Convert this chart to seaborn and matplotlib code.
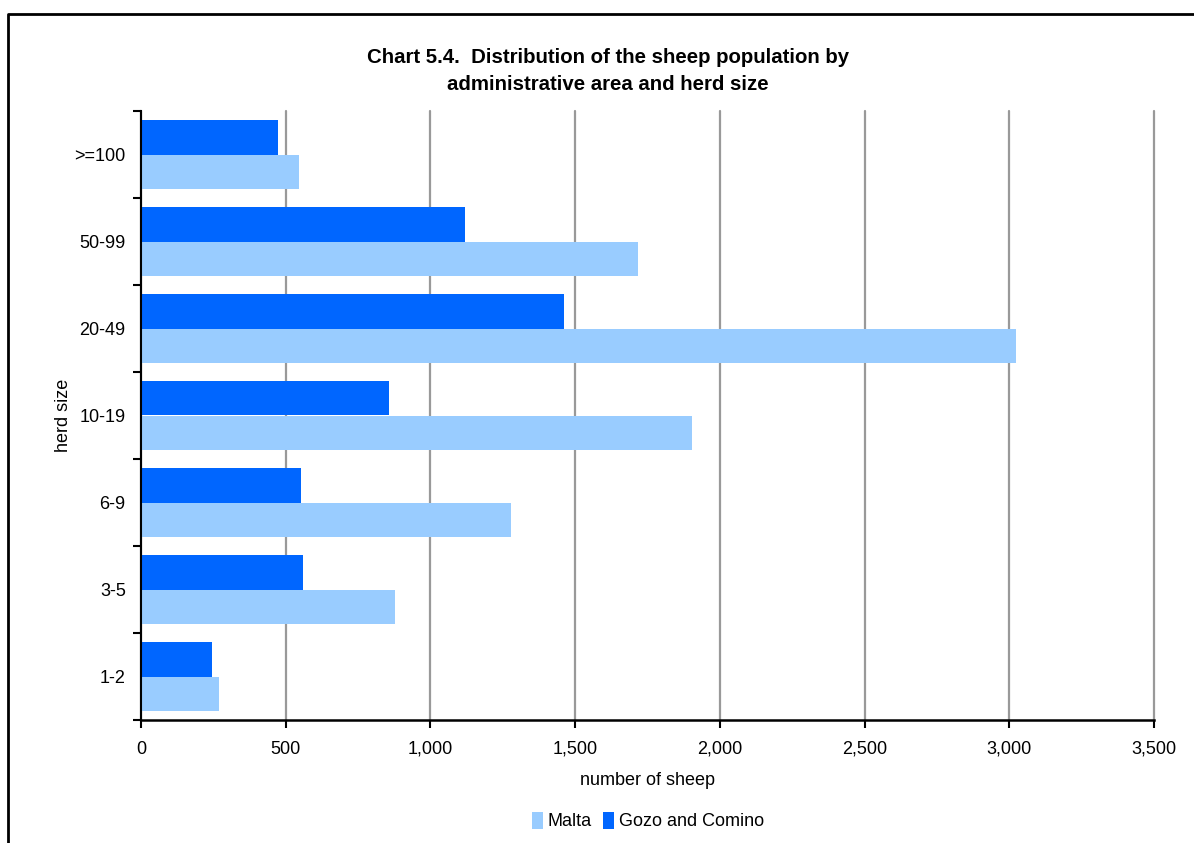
import pandas as pd
import matplotlib.pyplot as plt
from matplotlib.lines import Line2D
from matplotlib.patches import Patch
from matplotlib.ticker import FuncFormatter, FixedLocator
import seaborn as sns

# herd size classes, top to bottom as drawn
herd_sizes = [">=100", "50-99", "20-49", "10-19", "6-9", "3-5", "1-2"]
malta = [545, 1716, 3024, 1905, 1280, 876, 271]
gozo = [472, 1121, 1463, 856, 554, 561, 247]
areas = ["Malta", "Gozo and Comino"]
colors = {"Malta": "#99CCFF", "Gozo and Comino": "#0066FF"}

df = pd.DataFrame({
    "herd": herd_sizes * 2,
    "area": ["Malta"] * len(malta) + ["Gozo and Comino"] * len(gozo),
    "sheep": malta + gozo,
})

sns.set_theme(style="white")
plt.rcParams["font.family"] = ["Liberation Sans", "DejaVu Sans"]
plt.rcParams["text.color"] = "black"
plt.rcParams["axes.labelcolor"] = "black"
plt.rcParams["xtick.color"] = "black"
plt.rcParams["ytick.color"] = "black"

fig = plt.figure(figsize=(11.94, 8.43), dpi=100)
ax = fig.add_axes([141 / 1194, 1 - 720 / 843, 1013 / 1194, 609 / 843])

sns.barplot(data=df, x="sheep", y="herd", hue="area", order=herd_sizes,
            hue_order=["Gozo and Comino", "Malta"], palette=colors,
            orient="h", width=0.8, gap=0, saturation=1, linewidth=0,
            legend=False, ax=ax)

ax.set_xlim(0, 3500)
ax.set_ylim(len(herd_sizes) - 0.5, -0.5)
ax.set_xticks(range(0, 3501, 500))
ax.xaxis.set_major_formatter(FuncFormatter(lambda v, p: f"{int(v):,}"))
ax.grid(axis="x", color="#999999", linewidth=1.6)
ax.grid(axis="y", visible=False)
ax.set_axisbelow(True)
for gl in ax.get_xgridlines():
    gl.set_clip_on(False)

for s in ["top", "right"]:
    ax.spines[s].set_visible(False)
ax.spines["bottom"].set_color("black")
ax.spines["bottom"].set_linewidth(1.8)
ax.spines["left"].set_color("black")
ax.spines["left"].set_linewidth(1.5)

ax.yaxis.set_minor_locator(FixedLocator([i - 0.5 for i in range(len(herd_sizes) + 1)]))
ax.tick_params(axis="y", which="major", length=0, pad=11, labelsize=13)
ax.tick_params(axis="y", which="minor", length=6, width=1.5, color="black", left=True)
ax.tick_params(axis="x", which="major", length=6, width=1.5, color="black", bottom=True,
               pad=9, labelsize=13)

ax.set_xlabel("number of sheep", fontsize=13, labelpad=10)
ax.set_ylabel("herd size", fontsize=13, labelpad=2)

fig.text(608 / 1194, 1 - 71 / 843,
         "Chart 5.4.  Distribution of the sheep population by\nadministrative area and herd size",
         ha="center", va="center", fontsize=14.7, fontweight="bold", linespacing=1.5)

handles = [Patch(facecolor=colors[a], edgecolor="none") for a in areas]
fig.legend(handles, areas, loc="center", bbox_to_anchor=(648 / 1194, 1 - 821 / 843),
           ncol=2, frameon=False, fontsize=13, handlelength=0.6, handleheight=1.1,
           handletextpad=0.3, columnspacing=0.6)

# partial frame around the chart area
fig.add_artist(Line2D([8 / 1194, 8 / 1194, 1.0], [0.0, 1 - 14 / 843, 1 - 14 / 843],
                      color="black", linewidth=2))

fig.savefig("out.png", dpi=100)
